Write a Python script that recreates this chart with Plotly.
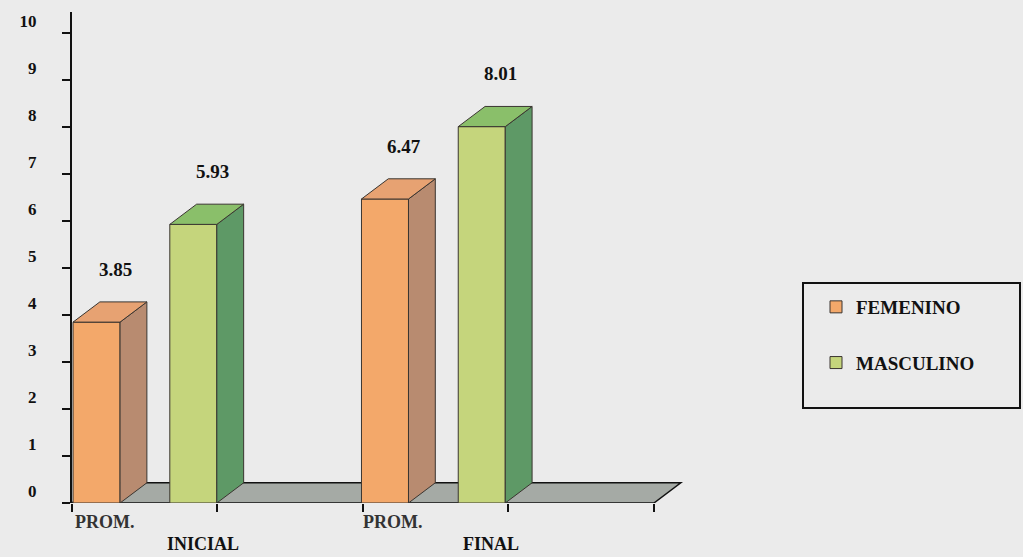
import numpy as np
import plotly.graph_objects as go

# ---- data ----
categories = ["PROM. INICIAL", "PROM. FINAL"]
series_names = ["FEMENINO", "MASCULINO"]
femenino = [3.85, 6.47]
masculino = [5.93, 8.01]
y_ticks = list(range(0, 11))

# ---- style ----
FONT = "Liberation Serif"
front_colors = ["#F3A86A", "#C5D57C"]
side_colors = ["#B88B70", "#5E9966"]
top_colors = ["#E7A272", "#8ABF6A"]
edge_color = "#3a3530"
bar_width = 0.163
bar_offsets = [-0.249, 0.0865]
DX, DY = 0.093, 0.43          # pseudo-3D depth (x units, y units)
x_front = (-0.2526, 1.765)    # floor front edge extent
x_range = [-0.2526, 1.89]
y_range = [0, 10.45]
bg = "#ebebeb"

# plot-area geometry in pixels (for paper-coordinate conversions)
L, R, T, B, W, H = 72, 333, 12, 54, 1023, 557
PW, PH = W - L - R, H - T - B
def px_x(px):
    return (px - L) / PW
def px_y(py):
    return (H - B - py) / PH

fig = go.Figure()
xs = np.arange(len(categories))
series_vals = [femenino, masculino]

# front faces (with legend)
for s, (name, vals) in enumerate(zip(series_names, series_vals)):
    fig.add_trace(go.Bar(
        x=xs, y=vals, name=name, width=bar_width, offset=bar_offsets[s],
        legendgroup=name,
        marker=dict(color=front_colors[s], line=dict(color=edge_color, width=1)),
        hoverinfo="skip",
    ))

# side and top faces derived from values
for s, vals in enumerate(series_vals):
    for i, v in enumerate(vals):
        xl = xs[i] + bar_offsets[s]
        xr = xl + bar_width
        fig.add_trace(go.Scatter(
            x=[xr, xr + DX, xr + DX, xr, xr], y=[0, DY, v + DY, v, 0],
            mode="lines", fill="toself", fillcolor=side_colors[s],
            line=dict(color=edge_color, width=1), showlegend=False, hoverinfo="skip"))
        fig.add_trace(go.Scatter(
            x=[xl, xl + DX, xr + DX, xr, xl], y=[v, v + DY, v + DY, v, v],
            mode="lines", fill="toself", fillcolor=top_colors[s],
            line=dict(color=edge_color, width=1), showlegend=False, hoverinfo="skip"))

# floor
x0, x1 = x_front
floor_path = (f"M {x0},0 L {x1},0 L {x1 + DX},{DY} L {x0 + DX},{DY} Z")
fig.add_shape(type="path", path=floor_path, xref="x", yref="y", layer="below",
              fillcolor="#A5AAA5", line=dict(color="#111111", width=1.5))

# legend frame
fig.add_shape(type="rect", xref="paper", yref="paper",
              x0=px_x(803), x1=px_x(1020), y0=px_y(408), y1=px_y(283),
              line=dict(color="#111111", width=2), fillcolor="rgba(0,0,0,0)")

annotations = []
# value labels
for s, vals in enumerate(series_vals):
    for i, v in enumerate(vals):
        xc = xs[i] + bar_offsets[s] + bar_width / 2 + DX * 0.7
        annotations.append(dict(
            x=xc, y=v + DY, xref="x", yref="y", text=f"{v:.2f}", showarrow=False,
            yanchor="bottom", yshift=20,
            font=dict(family=FONT, size=19, color="#111111", weight="bold")))
# category labels (two staggered lines)
for i, cat in enumerate(categories):
    first, second = cat.split(" ", 1)
    annotations.append(dict(
        x=xs[i] - 0.14, y=0, xref="x", yref="y", text=first, showarrow=False,
        yanchor="middle", yshift=-19,
        font=dict(family=FONT, size=18, color="#333333", weight="bold")))
    annotations.append(dict(
        x=xs[i] + 0.2, y=0, xref="x", yref="y", text=second, showarrow=False,
        yanchor="middle", yshift=-41,
        font=dict(family=FONT, size=18, color="#111111", weight="bold")))

fig.update_layout(
    width=W, height=H,
    margin=dict(l=L, r=R, t=T, b=B),
    paper_bgcolor=bg, plot_bgcolor=bg,
    barmode="overlay",
    showlegend=True,
    legend=dict(
        x=px_x(816), y=px_y(288), xanchor="left", yanchor="top",
        bgcolor="rgba(0,0,0,0)", borderwidth=0,
        font=dict(family=FONT, size=19, color="#111111", weight="bold"),
        tracegroupgap=28, traceorder="grouped",
    ),
    annotations=annotations,
    xaxis=dict(range=x_range, tickvals=list(np.linspace(x0, x1, 5)),
               ticktext=[""] * 5, ticks="outside", ticklen=8, tickwidth=2,
               tickcolor="#111111", showline=False, showgrid=False, zeroline=False),
    yaxis=dict(range=y_range, tickvals=y_ticks, ticks="outside", ticklen=8,
               tickwidth=2, tickcolor="#111111", showline=True, linewidth=2,
               linecolor="#111111", showgrid=False, zeroline=False,
               ticklabelshift=-12, ticklabelstandoff=22,
               tickfont=dict(family=FONT, size=17, color="#111111", weight="bold")),
)

fig.write_html("out.html")
